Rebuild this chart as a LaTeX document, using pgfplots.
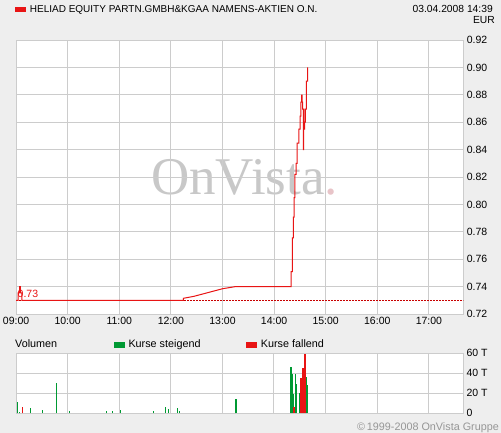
\documentclass[border=0pt]{standalone}
\usepackage{fontspec}
\setmainfont{Liberation Sans}
\newfontfamily\wmfont{Liberation Serif}
\usepackage{pgfplots}
\pgfplotsset{compat=1.18}
\definecolor{bggray}{RGB}{238,238,238}
\definecolor{gridgray}{RGB}{204,204,204}
\definecolor{linered}{RGB}{232,20,20}
\definecolor{dotred}{RGB}{200,0,0}
\definecolor{volgreen}{RGB}{0,153,51}
\definecolor{wmgray}{RGB}{200,200,200}
\definecolor{wmpink}{RGB}{232,196,200}
\definecolor{copygray}{RGB}{150,150,150}
\begin{document}
\begin{tikzpicture}[x=1bp,y=1bp]
\fill[bggray] (0,0) rectangle (501,433);
\path[use as bounding box] (0,0) rectangle (501,433);
% title
\fill[linered] (15,420.7) rectangle (26,425.7);
\node[anchor=base west,inner sep=0] at (29.7,420.7) {\fontsize{10bp}{12bp}\selectfont HELIAD EQUITY PARTN.GMBH\&KGAA NAMENS-AKTIEN O.N.};
\node[anchor=base east,inner sep=0] at (493,420.7) {\fontsize{10.3bp}{12bp}\selectfont 03.04.2008 14:39};
\node[anchor=base east,inner sep=0] at (495,409.7) {\fontsize{10.3bp}{12bp}\selectfont EUR};
% plot background and watermark
\fill[white] (16.1,118.9) rectangle (463.3,393);
\node[anchor=base west,inner sep=0] at (151,238) {\wmfont\fontsize{53bp}{60bp}\selectfont\color{wmgray}OnVista\color{wmpink}.};
\fill[white] (16,19.7) rectangle (463,79.7);
\begin{axis}[
  at={(16.1bp,118.9bp)}, anchor=south west,
  scale only axis, width=447.2bp, height=274.1bp,
  xmin=9, xmax=17.667, ymin=0.72, ymax=0.92,
  xtick={9,10,11,12,13,14,15,16,17},
  xticklabels={09:00,10:00,11:00,12:00,13:00,14:00,15:00,16:00,17:00},
  ytick={0.72,0.74,0.76,0.78,0.80,0.82,0.84,0.86,0.88,0.90,0.92},
  yticklabel={\pgfmathprintnumber[fixed,fixed zerofill,precision=2,assume math mode=true]{\tick}},
  yticklabel pos=right,
  major tick length=0pt,
  grid=major,
  grid style={draw=gridgray, line width=0.8bp},
  axis line style={draw=gridgray, line width=0.8bp},
  tick label style={font=\fontsize{10.5bp}{12bp}\selectfont},
  /pgf/number format/assume math mode=true,
  axis background/.style={},
  clip=true,
]
\addplot[dotred, line width=0.8bp, dash pattern=on 1.5bp off 1.5bp] coordinates {(9,0.73) (17.667,0.73)};
\addplot[linered, line width=1bp, no marks] coordinates {
(9,0.73)(9.04,0.73)(9.04,0.7355)(9.07,0.7355)(9.07,0.74)(9.085,0.74)(9.085,0.7355)(9.11,0.7355)(9.11,0.73)
(12.24,0.73)(12.24,0.7315)(12.45,0.733)(12.6,0.7345)(12.8,0.7365)(13.0,0.7385)(13.24,0.74)
(14.328,0.74)(14.328,0.751)(14.353,0.751)(14.353,0.7757)(14.372,0.7757)(14.372,0.7908)(14.39,0.7908)(14.39,0.805)(14.405,0.805)(14.405,0.822)(14.425,0.822)(14.425,0.83)(14.444,0.83)(14.444,0.8448)(14.482,0.8448)(14.482,0.855)(14.502,0.855)(14.502,0.8645)(14.521,0.8645)(14.521,0.8747)(14.535,0.8747)(14.535,0.8798)(14.545,0.8798)(14.545,0.8747)(14.553,0.8747)(14.553,0.8695)(14.566,0.8695)(14.566,0.840)(14.572,0.840)(14.572,0.8695)(14.579,0.8695)(14.579,0.855)(14.59,0.855)(14.59,0.86)(14.605,0.86)(14.605,0.8695)(14.624,0.8695)(14.624,0.89)(14.651,0.89)(14.651,0.90)
};
\end{axis}
\node[anchor=base west,inner sep=0,text=linered] at (17.5,135.7) {\fontsize{10.5bp}{12bp}\selectfont 0.73};
% volume legend
\node[anchor=base west,inner sep=0] at (15,85.3) {\fontsize{10.8bp}{12bp}\selectfont Volumen};
\fill[volgreen] (114,85.3) rectangle (125,90.7);
\node[anchor=base west,inner sep=0] at (128.3,85.3) {\fontsize{10.8bp}{12bp}\selectfont Kurse steigend};
\fill[linered] (246,85.3) rectangle (257,90.7);
\node[anchor=base west,inner sep=0] at (260.7,85.3) {\fontsize{10.8bp}{12bp}\selectfont Kurse fallend};
\begin{axis}[
  at={(16bp,19.7bp)}, anchor=south west,
  scale only axis, width=447bp, height=60bp,
  xmin=9, xmax=17.667, ymin=0, ymax=60,
  xtick={9,10,11,12,13,14,15,16,17},
  xticklabels={},
  ytick={0,20,40,60},
  yticklabels={0,20 T,40 T,60 T},
  yticklabel pos=right,
  major tick length=0pt,
  grid=major,
  grid style={draw=gridgray, line width=0.8bp},
  axis line style={draw=gridgray, line width=0.8bp},
  tick label style={font=\fontsize{10.5bp}{12bp}\selectfont},
  clip=true,
]
\addplot[ycomb, volgreen, line width=1.2bp, no marks] coordinates {
(9.023,11.6)(9.062,1.6)(9.275,5.3)(9.508,3.3)(9.779,30.6)(10.031,2.3)(10.748,2.3)(10.864,2.5)(11.019,3.3)(11.659,2.3)(11.891,6.3)(11.950,4.3)(12.124,5.3)(12.163,2.3)(13.267,14.3)
(14.333,46.6)(14.353,39)(14.372,19.3)(14.419,39.6)(14.444,29.6)(14.502,20.6)(14.547,6.6)(14.580,30.6)(14.624,36.3)(14.643,28.6)
};
\addplot[ycomb, linered, line width=1.2bp, no marks] coordinates {
(9.12,6.3)(14.391,6.6)(14.527,35.6)(14.566,45.6)(14.605,59.6)
};
\end{axis}
\node[anchor=base east,inner sep=0,text=copygray] at (499,2.3) {\fontsize{10.8bp}{12bp}\selectfont \textcopyright\,1999-2008 OnVista Gruppe};
\end{tikzpicture}
\end{document}
